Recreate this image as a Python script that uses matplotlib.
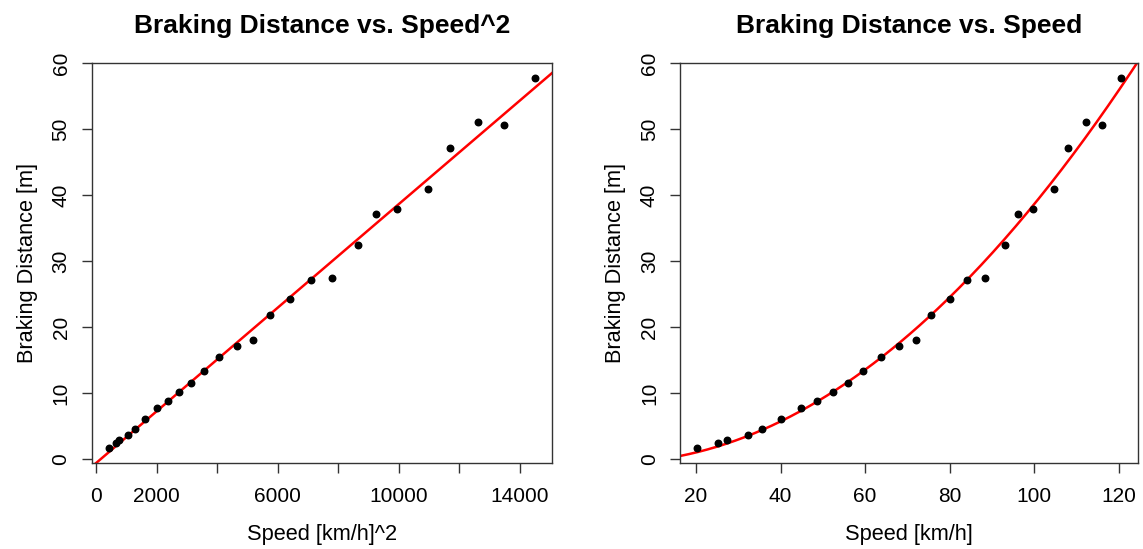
import numpy as np
import matplotlib.pyplot as plt

plt.rcParams['font.family'] = ['Liberation Sans', 'DejaVu Sans']

# measured speeds [km/h] and braking distances [m]
speed = np.array([20.2, 25.2, 27.2, 32.3, 35.5, 40.0, 44.8, 48.6, 52.4, 55.9,
                  59.6, 63.7, 68.1, 72.0, 75.7, 80.1, 84.2, 88.3, 93.0, 96.2,
                  99.8, 104.7, 108.1, 112.3, 116.1, 120.5])
distance = np.array([1.6, 2.5, 2.9, 3.6, 4.6, 6.1, 7.8, 8.8, 10.1, 11.6,
                     13.4, 15.4, 17.2, 18.0, 21.8, 24.2, 27.2, 27.5, 32.4, 37.2,
                     37.9, 40.9, 47.1, 51.1, 50.6, 57.7])

sq_ticks = [0, 2000, 4000, 6000, 8000, 10000, 12000, 14000]
sq_labels = ['0', '2000', '', '6000', '', '10000', '', '14000']
speed_ticks = [20, 40, 60, 80, 100, 120]
dist_ticks = [0, 10, 20, 30, 40, 50, 60]

speed_sq = speed ** 2
slope, intercept = np.polyfit(speed_sq, distance, 1)

W, H = 1143, 549
fig = plt.figure(figsize=(W / 100, H / 100), dpi=100)
ax1 = fig.add_axes([91.7 / W, (H - 463.3) / H, 460.6 / W, 400 / H])
ax2 = fig.add_axes([680 / W, (H - 463.3) / H, 457.7 / W, 400 / H])


def r_lim(v):
    # 4% padding on both sides, like R's default axis style
    lo, hi = v.min(), v.max()
    pad = 0.04 * (hi - lo)
    return lo - pad, hi + pad


edge = '#333333'

def style(ax, title, xlabel):
    ax.set_title(title, fontsize=19, fontweight='bold', pad=22)
    ax.set_xlabel(xlabel, fontsize=15.7, labelpad=13)
    ax.set_ylabel('Braking Distance [m]', fontsize=15.7, labelpad=10)
    for sp in ax.spines.values():
        sp.set_color(edge)
        sp.set_linewidth(1.0)
    ax.tick_params(direction='out', length=7.2, width=1.0, color=edge,
                   labelsize=15, pad=10)
    ax.tick_params(axis='y', pad=8)
    ax.set_yticks(dist_ticks)
    ax.set_yticklabels([str(t) for t in dist_ticks], rotation=90, va='center')


# left: distance against squared speed with linear fit
x1lo, x1hi = r_lim(speed_sq)
ax1.set_xlim(x1lo, x1hi)
ax1.set_ylim(*r_lim(distance))
xx = np.array([x1lo, x1hi])
ax1.plot(xx, intercept + slope * xx, color='#ff0000', lw=1.8, zorder=2)
ax1.scatter(speed_sq, distance, s=22, color='black', zorder=3)
ax1.set_xticks(sq_ticks)
ax1.set_xticklabels(sq_labels)
style(ax1, 'Braking Distance vs. Speed^2', 'Speed [km/h]^2')

# right: same model drawn against speed
x2lo, x2hi = r_lim(speed)
ax2.set_xlim(x2lo, x2hi)
ax2.set_ylim(*r_lim(distance))
vv = np.linspace(x2lo, x2hi, 200)
ax2.plot(vv, intercept + slope * vv ** 2, color='#ff0000', lw=1.8, zorder=2)
ax2.scatter(speed, distance, s=22, color='black', zorder=3)
ax2.set_xticks(speed_ticks)
style(ax2, 'Braking Distance vs. Speed', 'Speed [km/h]')

fig.savefig('out.png', dpi=100)
